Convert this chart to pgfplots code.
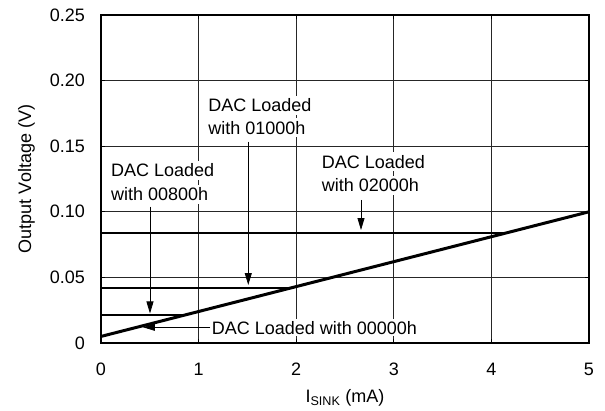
\documentclass[border=0pt]{standalone}
\usepackage{fontspec}
\setmainfont{Liberation Sans}
\usepackage{pgfplots}
\pgfplotsset{compat=1.18}
\usetikzlibrary{arrows.meta}
\begin{document}
\fontsize{18}{22}\selectfont
\begin{tikzpicture}[font=\fontsize{18}{22}\selectfont]
\path[use as bounding box] (-101pt,-67pt) rectangle (504pt,343pt);
\begin{axis}[
  at={(0pt,0pt)}, anchor=south west,
  scale only axis, width=488pt, height=328pt,
  xmin=0, xmax=5, ymin=0, ymax=0.25,
  xtick={0,1,2,3,4,5}, ytick={0,0.05,0.1,0.15,0.2,0.25},
  xticklabels={0,1,2,3,4,5},
  yticklabels={0,0.05,0.10,0.15,0.20,0.25},
  /pgf/number format/assume math mode=true,
  xticklabel style={yshift=-14pt},
  yticklabel style={xshift=-10pt},
  grid=major, major grid style={line width=0.7pt, black!85},
  axis line style={line width=2.2pt},
  tick style={black, line width=0.7pt},
  tick align=inside,
  xlabel={I\textsubscript{SINK} (mA)},
  ylabel={Output Voltage (V)},
  xlabel style={at={(axis description cs:0.5,-0.182)}, anchor=base},
  ylabel style={at={(axis description cs:-0.1434,0.5)}, anchor=base},
  clip=false,
]
\addplot[line width=3pt, black] coordinates {(0,0.005) (5,0.1)};
\addplot[line width=2pt, black] coordinates {(0,0.021) (0.84,0.021)};
\addplot[line width=2pt, black] coordinates {(0,0.042) (1.97,0.042)};
\addplot[line width=2pt, black] coordinates {(0,0.084) (4.12,0.084)};

\node[anchor=base west, fill=white, inner sep=3pt, xshift=-3pt] at (axis cs:0.102,0.1268) {DAC Loaded};
\node[anchor=base west, fill=white, inner sep=3pt, xshift=-3pt] at (axis cs:0.102,0.1085) {with 00800h};
\node[anchor=base west, fill=white, inner sep=3pt, xshift=-3pt] at (axis cs:1.099,0.1763) {DAC Loaded};
\node[anchor=base west, fill=white, inner sep=3pt, xshift=-3pt] at (axis cs:1.099,0.1591) {with 01000h};
\node[anchor=base west, fill=white, inner sep=3pt, xshift=-3pt] at (axis cs:2.261,0.1332) {DAC Loaded};
\node[anchor=base west, fill=white, inner sep=3pt, xshift=-3pt] at (axis cs:2.261,0.1153) {with 02000h};
\node[anchor=base west, fill=white, inner sep=2pt, xshift=-2pt] at (axis cs:1.134,0.00686) {DAC Loaded with 00000h};

\draw[line width=0.8pt, -{Triangle[length=12pt,width=7pt]}] (axis cs:0.502,0.1039) -- (axis cs:0.502,0.0225);
\draw[line width=0.8pt, -{Triangle[length=12pt,width=7pt]}] (axis cs:1.509,0.1534) -- (axis cs:1.509,0.0442);
\draw[line width=0.8pt, -{Triangle[length=12pt,width=7pt]}] (axis cs:2.664,0.109) -- (axis cs:2.664,0.0861);
\draw[line width=0.8pt, -{Triangle[length=12pt,width=7pt]}] (axis cs:1.117,0.012) -- (axis cs:0.43,0.012);
\end{axis}
\end{tikzpicture}
\end{document}
